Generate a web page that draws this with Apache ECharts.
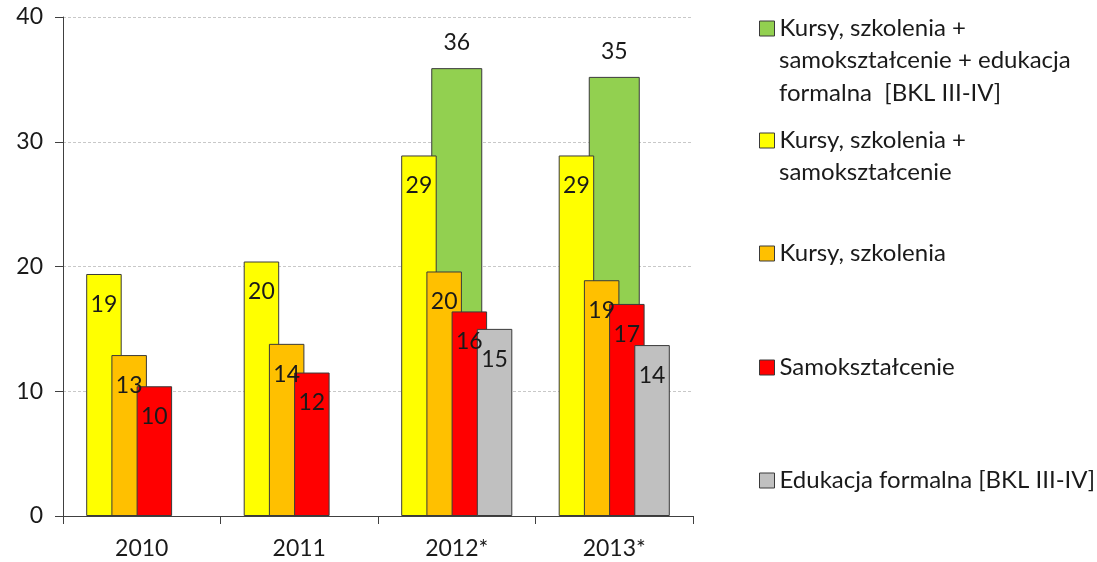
<!DOCTYPE html>
<html>
<head>
<meta charset="utf-8">
<title>Kursy, szkolenia, samokształcenie</title>
<script src="https://cdn.jsdelivr.net/npm/echarts@6/dist/echarts.min.js"></script>
<style>
    html, body { margin: 0; padding: 0; background: #fff; }
    #chart { width: 1097px; height: 562px; }
</style>
</head>
<body>
<div id="chart"></div>
<script>
// dane
var categories = ['2010', '2011', '2012*', '2013*'];
var razem = [null, null, 35.9, 35.2];          // kursy + samokształcenie + edukacja formalna
var kursySamo = [19.4, 20.4, 28.9, 28.9];      // kursy, szkolenia + samokształcenie
var kursy = [12.9, 13.8, 19.6, 18.9];
var samo = [10.4, 11.5, 16.4, 17.0];
var edukacja = [null, null, 15.0, 13.7];
var yTicks = [0, 10, 20, 30, 40];

var names = [
    'Kursy, szkolenia +\nsamokształcenie + edukacja\nformalna  [BKL III-IV]',
    'Kursy, szkolenia +\nsamokształcenie',
    'Kursy, szkolenia',
    'Samokształcenie',
    'Edukacja formalna [BKL III-IV]'
];
var colors = ['#92D050', '#FFFF00', '#FFC000', '#FF0000', '#C0C0C0'];
var legendTop = [28, 140, 253, 367, 480];

var font = 'Lato';
var lineH = 33;
var legendLeft = 759;
var iconSize = 15;

var fmtVal = function(p){ return p.value == null ? '' : Math.round(p.value); };

var labelInside = {
    show: true,
    position: 'insideTop',
    distance: 19,
    color: '#1a1a1a',
    fontFamily: font,
    fontSize: 23,
    formatter: fmtVal
};

var makeBar = function(idx, data){
    return {
        name: names[idx],
        type: 'bar',
        xAxisIndex: 0,
        data: data,
        barWidth: 35.5,
        barGap: '-29%',
        itemStyle: { color: colors[idx], borderColor: '#3a3a3a', borderWidth: 1 },
        label: labelInside,
        emphasis: { disabled: true }
    };
};

// osobna legenda dla kazdej serii; w legendzie tylko pierwsza linia,
// kolejne linie jako tekst obok (ikona ma stac przy pierwszej linii)
var legends = [];
var extraLines = [];
for(var i = 0; i < names.length; i++){
    var lines = names[i].split('\n');
    legends.push({
        data: [{ name: names[i], icon: 'rect' }],
        orient: 'vertical',
        left: legendLeft,
        top: legendTop[i] - iconSize / 2 - 4,
        padding: 0,
        itemWidth: iconSize,
        itemHeight: iconSize,
        selectedMode: false,
        formatter: function(name){ return name.split('\n')[0]; },
        itemStyle: { borderColor: '#3a3a3a', borderWidth: 1 },
        textStyle: { fontFamily: font, fontSize: 24, color: '#1a1a1a' }
    });
    for(var j = 1; j < lines.length; j++){
        extraLines.push({
            type: 'text',
            left: legendLeft + iconSize + 5,
            top: legendTop[i] + j * lineH - 13,
            style: { text: lines[j], font: '24px ' + font, fill: '#1a1a1a' }
        });
    }
}

var chart = echarts.init(document.getElementById('chart'));
chart.setOption({
    animation: false,
    legend: legends,
    graphic: extraLines,
    grid: { left: 63, right: 404, top: 17, bottom: 46 },
    xAxis: [{
        type: 'category',
        data: categories,
        axisLine: { lineStyle: { color: '#404040', width: 1 } },
        axisTick: { show: true, length: 8, lineStyle: { color: '#404040' } },
        axisLabel: { color: '#1a1a1a', fontFamily: font, fontSize: 23, margin: 21 }
    }, {
        type: 'category',
        data: categories,
        show: false
    }],
    yAxis: {
        type: 'value',
        min: yTicks[0],
        max: yTicks[yTicks.length - 1],
        interval: 10,
        axisLine: { show: true, lineStyle: { color: '#404040', width: 1 } },
        axisTick: { show: true, length: 8, lineStyle: { color: '#404040' } },
        axisLabel: { color: '#1a1a1a', fontFamily: font, fontSize: 23, margin: 20 },
        splitLine: { show: true, lineStyle: { color: '#c8c8c8', type: [3, 2] } }
    },
    series: [
        {
            name: names[0],
            type: 'bar',
            xAxisIndex: 1,
            z: 1,
            data: razem,
            barWidth: 51,
            itemStyle: { color: colors[0], borderColor: '#3a3a3a', borderWidth: 1 },
            label: {
                show: true,
                position: 'top',
                distance: 14,
                color: '#1a1a1a',
                fontFamily: font,
                fontSize: 23,
                formatter: fmtVal
            },
            emphasis: { disabled: true }
        },
        makeBar(1, kursySamo),
        makeBar(2, kursy),
        makeBar(3, samo),
        makeBar(4, edukacja)
    ]
});
</script>
</body>
</html>
